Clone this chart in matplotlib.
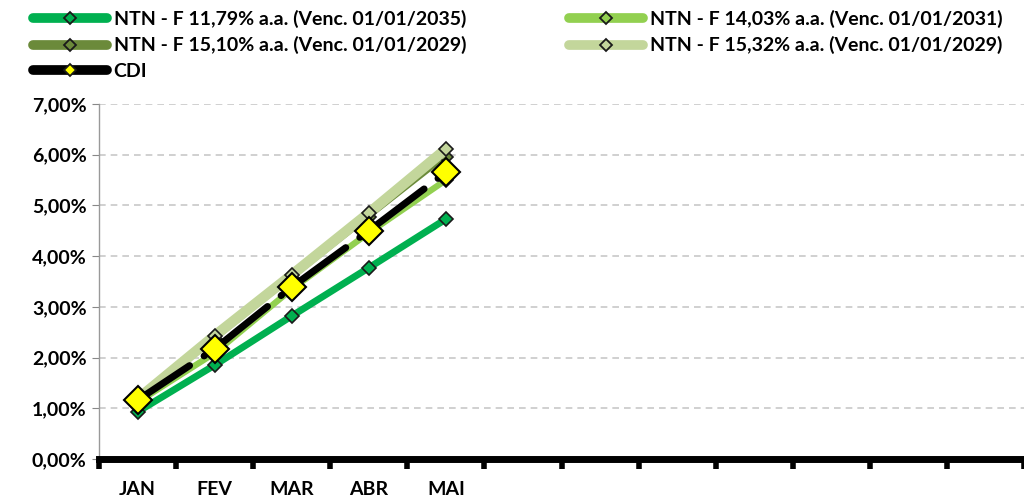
import numpy as np
import matplotlib
matplotlib.use("Agg")
import matplotlib.pyplot as plt
from matplotlib.lines import Line2D
from matplotlib.ticker import FuncFormatter, FixedLocator

plt.rcParams['font.family'] = ['Lato', 'DejaVu Sans']
plt.rcParams['font.weight'] = 'bold'

months = ["JAN", "FEV", "MAR", "ABR", "MAI", "", "", "", "", "", "", ""]
ntn_2035 = [0.93, 1.85, 2.82, 3.77, 4.73]
ntn_2031 = [1.12, 2.09, 3.35, 4.46, 5.50]
ntn_2029a = [1.16, 2.36, 3.57, 4.77, 5.96]
ntn_2029b = [1.18, 2.43, 3.63, 4.85, 6.11]
cdi = [1.16, 2.17, 3.39, 4.50, 5.65]

labels = ["NTN - F 11,79% a.a. (Venc. 01/01/2035)",
          "NTN - F 14,03% a.a. (Venc. 01/01/2031)",
          "NTN - F 15,10% a.a. (Venc. 01/01/2029)",
          "NTN - F 15,32% a.a. (Venc. 01/01/2029)",
          "CDI"]
colors = ["#00B050", "#92D050", "#6B8A3A", "#C3D69B", "black"]

fig = plt.figure(figsize=(10.24, 5.03), dpi=100)
ax = fig.add_axes([99/1024, 1-459/503, 925/1024, 355/503])

x = np.arange(len(ntn_2035))
series = [ntn_2035, ntn_2031, ntn_2029a, ntn_2029b]
widths = [5, 4.5, 3, 7.5]
for vals, c, w in zip(series, colors, widths):
    ax.plot(x, vals, color=c, lw=w, marker="D", ms=7, mfc=c,
            mec="#1a1a1a", mew=1.2, zorder=3, solid_capstyle="round")
ax.plot(x, cdi, color="black", lw=5, ls=(0, (9, 2.5, 0.1, 2.5)),
        dash_capstyle="round", marker="D", ms=14,
        mfc="#FFFF00", mec="black", mew=1.5, zorder=4)

ax.set_xlim(-0.5, 11.5)
ax.set_ylim(0, 7)
ax.yaxis.set_major_locator(FixedLocator(np.arange(0, 8, 1)))
ax.yaxis.set_major_formatter(FuncFormatter(lambda v, p: f"{v:.2f}%".replace(".", ",")))
ax.grid(axis="y", color="#c8c8c8", ls=(0, (4, 3)), lw=1.2)
ax.set_axisbelow(True)

ax.set_xticks(np.arange(12))
ax.set_xticklabels(months)
ax.set_xticks(np.arange(-0.5, 12, 1), minor=True)
ax.tick_params(axis="x", which="major", length=0, pad=16, labelsize=14)
ax.tick_params(axis="x", which="minor", length=7, width=4, color="black")
ax.tick_params(axis="y", length=5, color="#888888", labelsize=14, pad=4)

for s in ["top", "right"]:
    ax.spines[s].set_visible(False)
ax.spines["left"].set_color("#999999")
ax.spines["left"].set_linewidth(1)
ax.spines["bottom"].set_color("black")
ax.spines["bottom"].set_linewidth(5)

# legend handles: thick lines with small diamonds
handles = []
for i, c in enumerate(colors):
    mfc = "#FFFF00" if i == 4 else c
    handles.append(Line2D([], [], color=c, lw=7, solid_capstyle="round",
                          marker="D", ms=6, mfc=mfc, mec="#1a1a1a", mew=1.3))
order = [0, 2, 4, 1, 3]
fig.legend([handles[i] for i in order], [labels[i] for i in order],
           ncol=2, loc="upper left", bbox_to_anchor=(33/1024, 1 - 10/503),
           frameon=False, handlelength=3.8, handletextpad=0.35,
           columnspacing=5.3, labelspacing=0.42, borderpad=0, borderaxespad=0,
           prop={"size": 14, "weight": "bold"})

fig.savefig("out.png", dpi=100)
